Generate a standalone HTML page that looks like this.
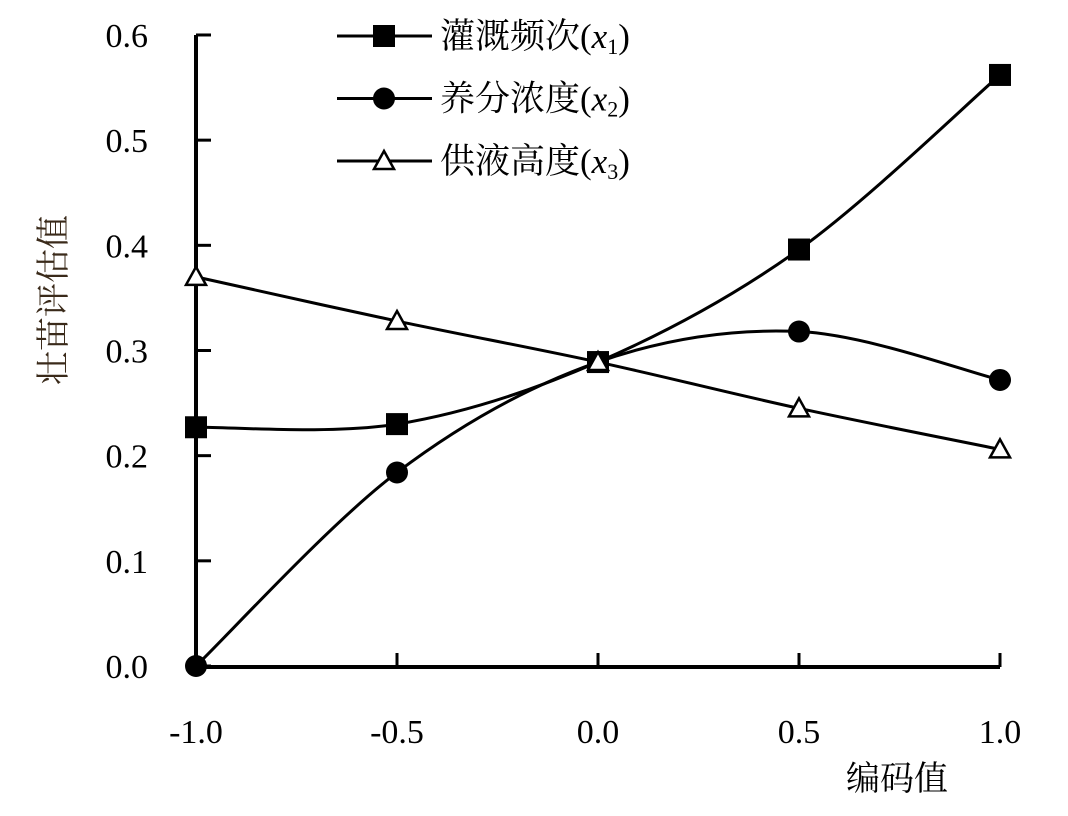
<!DOCTYPE html>
<html><head><meta charset="utf-8"><style>
body{margin:0;background:#fff}
svg text{font-family:"Liberation Serif","Noto Serif CJK SC",serif;fill:#000}
</style></head><body>
<svg width="1068" height="811" viewBox="0 0 1068 811">
<g id="axes"></g><g id="series"></g><g id="legend"></g>
<text x="65" y="300" font-size="34" transform="rotate(-90 65 300)" text-anchor="middle" fill="#3a2a1a" style="fill:#3a2a1a">壮苗评估值</text>
<text x="897" y="790" font-size="34" text-anchor="middle">编码值</text>
</svg>
<script>
const xCats=[-1,-0.5,0,0.5,1];
const s1=[0.227,0.230,0.289,0.396,0.562];
const s2=[0.0,0.184,0.289,0.318,0.272];
const s3=[0.370,0.328,0.289,0.245,0.206];
const yTicks=["0.0","0.1","0.2","0.3","0.4","0.5","0.6"];
const xTicks=["-1.0","-0.5","0.0","0.5","1.0"];
const names=["灌溉频次","养分浓度","供液高度"];
const NS="http://www.w3.org/2000/svg";
const X=v=>196+(v+1)*402;
const Y=v=>666-v*1051.7;
function mk(t,a,p){const e=document.createElementNS(NS,t);for(const k in a)e.setAttribute(k,a[k]);p.appendChild(e);return e;}
const ax=document.getElementById('axes'),se=document.getElementById('series'),lg=document.getElementById('legend');
let e=mk('path',{d:`M196,${Y(0.6)}V667H${X(1)}`,stroke:'#000','stroke-width':4,fill:'none'},ax);


yTicks.forEach((t,i)=>{const v=+t;
 let l=mk('line',{x1:196,x2:211,y1:Y(v),y2:Y(v),stroke:'#000','stroke-width':3},ax);
 
 
 let tx=mk('text',{x:148,y:Y(v)+12,'font-size':34,'text-anchor':'end'},ax);tx.textContent=t;
 
 });
xTicks.forEach(t=>{const v=+t;
 let l=mk('line',{x1:X(v),x2:X(v),y1:667,y2:653,stroke:'#000','stroke-width':3},ax);
 
 
 let tx=mk('text',{x:X(v),y:743,'font-size':34,'text-anchor':'middle'},ax);tx.textContent=t;
 
 });
function spline(pts){let d=`M${pts[0][0]},${pts[0][1]}`;
 for(let i=0;i<pts.length-1;i++){const p0=pts[Math.max(i-1,0)],p1=pts[i],p2=pts[i+1],p3=pts[Math.min(i+2,pts.length-1)];
 d+=`C${p1[0]+(p2[0]-p0[0])/6},${p1[1]+(p2[1]-p0[1])/6} ${p2[0]-(p3[0]-p1[0])/6},${p2[1]-(p3[1]-p1[1])/6} ${p2[0]},${p2[1]}`;}
 return d;}
function marker(k,x,y,p){
 if(k===0)return mk('rect',{x:x-11,y:y-11,width:22,height:22,fill:'#000'},p);
 if(k===1)return mk('circle',{cx:x,cy:y,r:11,fill:'#000'},p);
 return mk('path',{d:`M${x},${y-10}L${x+10},${y+8}L${x-10},${y+8}Z`,fill:'#fff',stroke:'#000','stroke-width':2.5},p);}
[s1,s2,s3].forEach((s,k)=>{
 const pts=xCats.map((c,i)=>[X(c),Y(s[i])]);
 let p=mk('path',{d:spline(pts),stroke:'#000','stroke-width':3,fill:'none'},se);
 
 
 pts.forEach(q=>{let m=marker(k,q[0],q[1],se);
 
 });
 const ly=36+k*62.5;
 let l=mk('line',{x1:337,x2:432,y1:ly,y2:ly,stroke:'#000','stroke-width':3},lg);
 
 
 let m=marker(k,384,ly,lg);
 
 
 let t=mk('text',{x:440,y:ly+12,'font-size':35},lg);
 t.innerHTML=names[k]+'(<tspan font-style="italic">x</tspan><tspan font-size="22" dy="6">'+(k+1)+'</tspan><tspan dy="-6">)</tspan>';
 
 });
</script>
</body></html>
